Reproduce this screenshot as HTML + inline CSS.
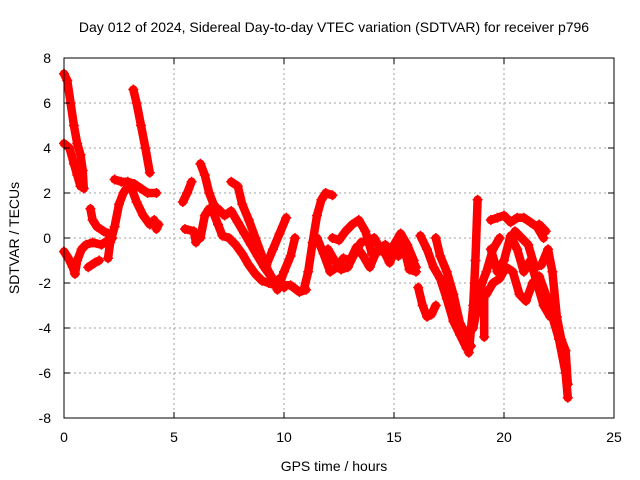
<!DOCTYPE html>
<html><head><meta charset="utf-8"><style>
body{margin:0;background:#fff;}
svg{display:block;font-family:"Liberation Sans",sans-serif;}
</style></head><body>
<svg id="chart" width="640" height="480">
<text x="334" y="32" font-size="14" text-anchor="middle">Day 012 of 2024, Sidereal Day-to-day VTEC variation (SDTVAR) for receiver p796</text>
<text x="334" y="471" font-size="14" text-anchor="middle">GPS time / hours</text>
<text transform="translate(19,238) rotate(-90)" font-size="14" text-anchor="middle">SDTVAR / TECUs</text>
<g id="grid"></g><g id="marks"></g>
<rect x="64" y="58" width="550" height="360" fill="none" stroke="#000" stroke-width="1"/>
<g id="ticks"></g>
</svg>
<script>
const xTicks=[0,5,10,15,20,25];
const yTicks=[-8,-6,-4,-2,0,2,4,6,8];
const trackA=[[0,7.3],[0.15,7.0],[0.3,6.0],[0.45,5.0],[0.6,4.2],[0.75,3.7],[0.85,3.0],[0.9,2.2]];
const trackB=[[0,4.2],[0.25,4.0],[0.45,3.3],[0.6,2.8],[0.75,2.3]];
const trackC=[[0,-0.6],[0.2,-0.9],[0.4,-1.3],[0.5,-1.6],[0.6,-1.0],[0.8,-0.5],[1.0,-0.3],[1.3,-0.2],[1.7,-0.3],[2.0,-0.1]];
const trackC2=[[1.1,-1.3],[1.4,-1.1],[1.6,-1.0]];
const trackC3=[[1.2,1.3],[1.3,0.8],[1.5,0.5],[1.8,0.3],[2.0,0.2],[2.2,0.0]];
const trackRise=[[2.0,-0.9],[2.1,-0.2],[2.3,0.5],[2.5,1.5],[2.7,2.0],[2.9,2.3],[3.1,2.4]];
const trackRidge=[[2.3,2.6],[2.6,2.5],[2.9,2.5],[3.2,2.4],[3.5,2.2],[3.8,2.0],[4.2,2.0]];
const trackFall=[[3.0,2.4],[3.3,1.6],[3.6,1.0],[3.9,0.6],[4.1,0.8]];
const trackSmall=[[4.2,0.4],[4.3,0.6]];
const trackD=[[3.15,6.6],[3.3,6.0],[3.5,5.0],[3.7,4.0],[3.9,2.9]];
const trackE1=[[5.4,1.6],[5.6,2.0],[5.8,2.5]];
const trackE2=[[5.5,0.4],[5.9,0.3],[6.0,-0.2]];
const trackF=[[6.2,3.3],[6.4,2.8],[6.6,2.0],[6.8,1.5],[7.0,1.2]];
const trackG=[[6.2,0.0],[6.4,1.0],[6.6,1.3],[6.8,1.1],[7.0,0.6],[7.2,0.1],[7.5,0.0],[7.8,-0.3],[8.1,-0.7],[8.4,-1.2],[8.7,-1.6],[9.0,-1.9],[9.3,-2.0],[9.6,-2.1]];
const trackH=[[7.0,1.3],[7.3,1.0],[7.6,1.2],[7.9,0.7],[8.2,0.2],[8.5,-0.3],[8.8,-0.8],[9.1,-1.3],[9.4,-1.7],[9.7,-2.2],[10.0,-2.1],[10.3,-2.1],[10.7,-2.4],[11.0,-2.3]];
const trackI=[[7.6,2.5],[7.9,2.3],[8.1,1.5],[8.4,0.8],[8.7,0.0],[9.0,-0.8],[9.3,-1.5],[9.6,-2.0],[9.8,-1.8],[10.0,-2.2]];
const trackJ=[[9.2,-1.2],[9.5,-0.5],[9.8,0.2],[10.1,0.9]];
const trackJ2=[[9.7,-2.3],[10.0,-1.5],[10.3,-0.8],[10.5,0.0]];
const trackK=[[10.9,-2.3],[11.1,-1.5],[11.3,-0.2],[11.5,1.0],[11.7,1.7],[11.9,2.0],[12.2,1.9]];
const trackL1=[[11.5,0.0],[11.8,-0.7],[12.1,-1.5],[12.4,-1.3],[12.7,-0.9],[13.0,-1.0],[13.3,-0.4],[13.6,-0.8],[13.9,-1.3],[14.2,-0.6],[14.5,-0.5],[14.8,-1.1],[15.1,-0.4],[15.4,-0.2],[15.7,-1.4],[16.0,-1.5]];
const trackL2=[[12.2,0.0],[12.5,-0.1],[12.8,0.3],[13.1,0.6],[13.4,0.8],[13.7,0.3],[14.0,-0.7],[14.3,-0.6],[14.6,-0.3],[14.9,-0.6],[15.2,-0.8],[15.5,-0.3],[15.8,-0.9],[16.0,-1.3]];
const trackL3=[[12.0,-0.5],[12.3,-1.0],[12.6,-1.4],[12.9,-1.3],[13.2,-0.7],[13.5,-0.2],[13.8,-0.1],[14.1,0.0],[14.4,-0.5],[14.7,-0.8],[15.0,-0.3],[15.3,0.2],[15.6,-0.3],[15.9,-1.0]];
const trackM=[[16.1,-2.2],[16.3,-3.0],[16.5,-3.5],[16.7,-3.4],[16.9,-3.0]];
const trackN=[[16.2,0.1],[16.5,-0.5],[16.8,-1.3],[17.1,-1.8],[17.4,-2.7],[17.7,-3.7],[18.0,-4.3],[18.3,-4.9],[18.5,-4.8]];
const trackO=[[16.9,0.0],[17.1,-0.8],[17.4,-1.5],[17.7,-2.5],[18.0,-3.8],[18.3,-4.3],[18.6,-4.0],[18.8,-3.0],[19.0,-2.0],[19.2,-1.5],[19.5,-0.5],[19.8,0.0]];
const trackSpike1=[[18.4,-5.1],[18.6,-3.0],[18.7,-1.0],[18.8,1.7]];
const trackSpike2=[[19.1,-4.4],[19.1,-2.5]];
const trackP=[[19.4,0.8],[19.7,0.9],[20.0,1.0],[20.3,0.7],[20.6,0.9],[20.9,0.9],[21.2,0.7],[21.5,0.5],[21.8,0.0]];
const trackQ=[[19.4,-0.5],[19.7,-1.5],[20.0,-1.0],[20.3,0.1],[20.6,-0.5],[20.9,-1.5],[21.2,-1.0],[21.5,-2.0],[21.8,-3.0],[22.1,-3.5]];
const trackR=[[19.2,-2.5],[19.5,-2.0],[19.8,-1.8],[20.1,-1.3],[20.4,-1.5],[20.7,-2.5],[21.0,-2.8],[21.3,-2.0],[21.6,-1.7],[21.9,-2.5],[22.2,-3.5],[22.5,-4.5],[22.8,-6.0],[22.9,-7.1]];
const trackS=[[20.5,0.3],[20.8,0.0],[21.1,-0.3],[21.4,-1.3],[21.7,-1.2],[22.0,-0.5],[22.2,-1.5],[22.4,-3.5],[22.6,-4.5],[22.8,-5.0],[22.9,-6.5]];
const trackT=[[21.6,0.6],[21.9,0.3]];
const tracks=[trackA,trackB,trackC,trackC2,trackC3,trackRise,trackRidge,trackFall,trackSmall,trackD,trackE1,trackE2,trackF,trackG,trackH,trackI,trackJ,trackJ2,trackK,trackL1,trackL2,trackL3,trackM,trackN,trackO,trackSpike1,trackSpike2,trackP,trackQ,trackR,trackS,trackT];

const NS="http://www.w3.org/2000/svg";
const X0=64,X1=614,Y0=418,Y1=58;
function xs(t){return X0+(t-0)/(25-0)*(X1-X0);}
function ys(v){return Y0-(v+8)/16*(Y0-Y1);}
function mk(tag,attrs,parent){const e=document.createElementNS(NS,tag);for(const k in attrs)e.setAttribute(k,attrs[k]);parent.appendChild(e);return e;}
const grid=document.getElementById('grid'),ticks=document.getElementById('ticks'),marks=document.getElementById('marks');
xTicks.forEach(t=>{
  const x=xs(t);
  if(t>0&&t<25){const g=mk('line',{x1:x,x2:x,y1:Y1,y2:Y0,stroke:'#a0a0a0','stroke-dasharray':'2,3'},grid);
  
  }
  mk('line',{x1:x,x2:x,y1:Y0,y2:Y0-6,stroke:'#000'},ticks);
  mk('line',{x1:x,x2:x,y1:Y1,y2:Y1+6,stroke:'#000'},ticks);
  const l=mk('text',{x:x,y:442,'font-size':14,'text-anchor':'middle'},ticks);l.textContent=t;
  
  
});
yTicks.forEach(v=>{
  const y=ys(v);
  if(v>-8&&v<8){const g=mk('line',{x1:X0,x2:X1,y1:y,y2:y,stroke:'#a0a0a0','stroke-dasharray':'2,3'},grid);
  
  }
  mk('line',{x1:X0,x2:X0+6,y1:y,y2:y,stroke:'#000'},ticks);
  mk('line',{x1:X1,x2:X1-6,y1:y,y2:y,stroke:'#000'},ticks);
  const l=mk('text',{x:51,y:y+5,'font-size':14,'text-anchor':'end'},ticks);l.textContent=v;
  
  
});
tracks.forEach(tr=>{
  const pl=mk('polyline',{points:tr.map(p=>xs(p[0])+','+ys(p[1])).join(' '),fill:'none',stroke:'#ff0000','stroke-width':8.5,'stroke-linejoin':'round','stroke-linecap':'round'},marks);
  
  
  tr.forEach(p=>{
    const x=xs(p[0]),y=ys(p[1]);
    const m=mk('path',{d:`M${x-5},${y}H${x+5}M${x},${y-5}V${y+5}`,stroke:'#ff0000','stroke-width':1.5},marks);
    
    
  });
});
</script>
</body></html>
